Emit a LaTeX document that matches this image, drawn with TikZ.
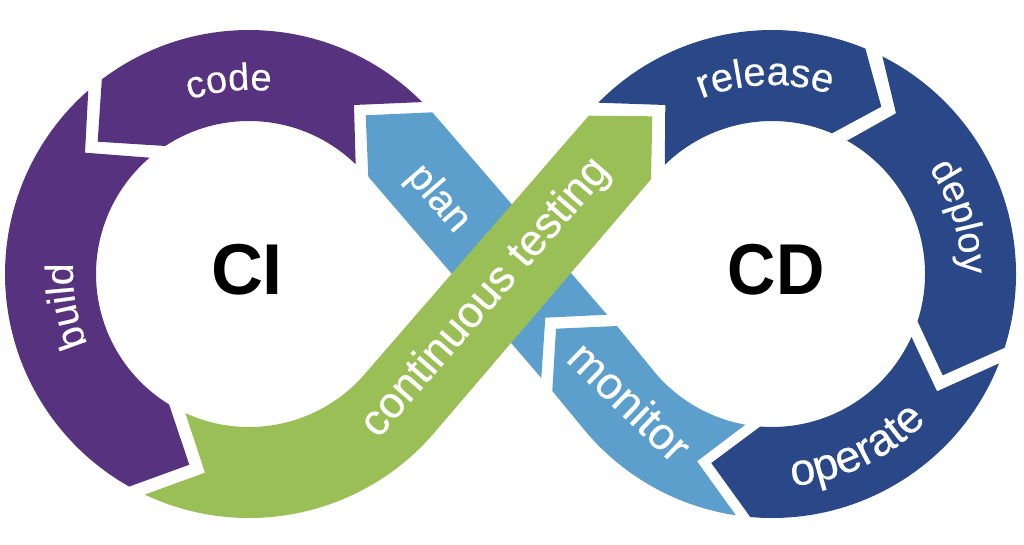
\documentclass[tikz,border=0pt]{standalone}
\usepackage{fontspec}
\setmainfont{Liberation Sans}
\newfontfamily\lblfam[FakeBold=0.4]{Liberation Sans}
\usetikzlibrary{calc,decorations.text}
\definecolor{cipurple}{HTML}{57327F}
\definecolor{cdblue}{HTML}{2A4887}
\definecolor{skyblue}{HTML}{5C9FCC}
\definecolor{testgreen}{HTML}{9BBF57}
\newcommand{\lblfont}[1]{\lblfam\fontsize{#1}{#1}\selectfont\color{white}}
\newcommand{\Ro}{244pt}
\newcommand{\Ri}{153pt}
\tikzset{
  x=1pt,y=-1pt,
  seg/.style={fill=#1,draw=none},
  bigtitle/.style={font=\bfseries\fontsize{72}{76}\selectfont,text=black,inner sep=0pt},
  straightlabel/.style={font=\lblfont{#1},text=white,inner sep=0pt},
  curvedlabel/.style 2 args={decorate,decoration={text along path,text align=center,text={|\lblfont{#1}|#2}}}
}
\begin{document}
\begin{tikzpicture}
\useasboundingbox (0,0) rectangle (1024,544);
\coordinate (L) at (249,274);
\coordinate (R) at (772,274);
% build
\fill[seg=cipurple] ($(L)+(131.2:\Ro)$) arc[start angle=131.2,end angle=240.6,radius=\Ro]
  -- (189.3,464.7) -- ($(L)+(238.5:\Ri)$) arc[start angle=238.5,end angle=130.5,radius=\Ri]
  -- (85,152.7) -- cycle;
% code
\fill[seg=cipurple] ($(L)+(127.1:\Ro)$) arc[start angle=127.1,end angle=44.8,radius=\Ro]
  -- (354,105) -- ($(L)+(45.8:\Ri)$) arc[start angle=45.8,end angle=123.2,radius=\Ri]
  -- (97.7,141.7) -- cycle;
% plan
\fill[seg=skyblue] (365.7,115.3) -- (432.3,112.3) -- (607,314.7) -- (545.3,317.7) -- (541.3,378) -- (368.3,176.7) -- cycle;
% monitor
\fill[seg=skyblue] (556,328.7) -- (617,326) -- ($(R)+(220.8:\Ri)$) arc[start angle=220.8,end angle=260,radius=\Ri]
  -- (697,461.3) -- ($(R)+(261.5:\Ro)$) arc[start angle=261.5,end angle=220.8,radius=\Ro]
  -- (552.3,391) -- cycle;
% continuous testing
\fill[seg=testgreen] (588.7,115.7) -- (652.3,116.3) -- (651,179.3) -- ($(L)+(-40.8:\Ro)$)
  arc[start angle=-40.8,end angle=-115.3,radius=\Ro] -- (205,472.7)
  -- ($(L)+(-114.6:\Ri)$) arc[start angle=-114.6,end angle=-40.8,radius=\Ri] -- cycle;
% release
\fill[seg=cdblue] ($(R)+(135.4:\Ro)$) arc[start angle=135.4,end angle=67.5,radius=\Ro]
  -- (881.3,106.7) -- ($(R)+(66.9:\Ri)$) arc[start angle=66.9,end angle=134.5,radius=\Ri]
  -- (665.3,105) -- cycle;
% deploy
\fill[seg=cdblue] ($(R)+(63.1:\Ro)$) arc[start angle=63.1,end angle=-17.6,radius=\Ro]
  -- (942.7,375.3) -- ($(R)+(-18:\Ri)$) arc[start angle=-18,end angle=60.6,radius=\Ri]
  -- (896,113.3) -- cycle;
% operate
\fill[seg=cdblue] ($(R)+(-21.5:\Ro)$) arc[start angle=-21.5,end angle=-95.1,radius=\Ro]
  -- (711.3,463) -- ($(R)+(-94.4:\Ri)$) arc[start angle=-94.4,end angle=-24.3,radius=\Ri]
  -- (937,391.3) -- cycle;
% titles
\node[bigtitle] (ci) at (247,270) {CI};
\node[bigtitle,xscale=0.93] (cd) at (776,270) {CD};
% straight labels
\node[straightlabel=40,rotate=-49] (plan) at (438,199) {plan};
\node[straightlabel=45,rotate=-44] (monitor) at (630,401) {monitor};
\node[straightlabel=44,rotate=49] (testing) at (486,298) {continuous testing};
% curved labels
\path[curvedlabel={38}{code}] ($(L)+(136:184pt)$) arc[start angle=136,end angle=56,radius=184pt];
\path[curvedlabel={39}{build}] ($(L)+(230:176pt)$) arc[start angle=230,end angle=150,radius=176pt];
\path[curvedlabel={40}{release}] ($(R)+(132:189pt)$) arc[start angle=132,end angle=52,radius=189pt];
\path[curvedlabel={38}{deploy}] ($(R)+(57:189pt)$) arc[start angle=57,end angle=-23,radius=189pt];
\path[curvedlabel={45}{operate}] ($(R)+(-104:213pt)$) arc[start angle=-104,end angle=-24,radius=213pt];
\end{tikzpicture}
\end{document}
